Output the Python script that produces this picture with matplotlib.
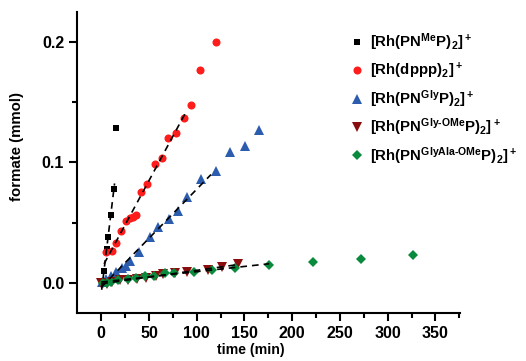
import numpy as np
import matplotlib
matplotlib.use("Agg")
import matplotlib.pyplot as plt

plt.rcParams['font.family'] = ['Liberation Sans', 'DejaVu Sans']
plt.rcParams['font.weight'] = 'bold'
plt.rcParams['mathtext.fontset'] = 'custom'
plt.rcParams['mathtext.rm'] = 'Liberation Sans:bold'
plt.rcParams['mathtext.bf'] = 'Liberation Sans:bold'
plt.rcParams['mathtext.default'] = 'bf'

# data (time in min, formate in mmol)
t_me = [2.5, 6, 7.5, 10, 13, 15.5]
y_me = [0.010, 0.028, 0.038, 0.056, 0.078, 0.129]

t_dppp = [5.5, 11, 16, 21, 25.5, 30, 33.5, 36.5, 42, 48, 56, 63.5, 70, 78.5, 86.5, 94.5, 103, 120.5]
y_dppp = [0.0255, 0.0266, 0.033, 0.0434, 0.051, 0.0537, 0.055, 0.056, 0.0758, 0.0822,
          0.0988, 0.1038, 0.1207, 0.1248, 0.1368, 0.1481, 0.1767, 0.2002]

t_gly = [0.5, 5, 10, 16, 22, 26, 30, 40, 51, 60, 71, 80, 90, 105, 120, 135, 151, 165]
y_gly = [0.001, 0.003, 0.006, 0.009, 0.012, 0.014, 0.018, 0.026, 0.038, 0.046,
         0.053, 0.060, 0.071, 0.086, 0.093, 0.109, 0.114, 0.127]

t_glyome = [0, 6, 11, 20, 28, 37, 47, 57, 65, 77, 90, 112, 126, 143]
y_glyome = [0.000, -0.001, 0.001, 0.002, 0.002, 0.003, 0.004, 0.006, 0.007, 0.008,
            0.009, 0.011, 0.013, 0.016]

t_glyala = [2, 6, 10, 18, 28, 36, 46, 55, 67, 76, 97, 116, 140, 176, 222, 272, 327]
y_glyala = [0.000, 0.000, 0.001, 0.002, 0.003, 0.004, 0.006, 0.006, 0.008, 0.008,
            0.009, 0.011, 0.012, 0.015, 0.017, 0.020, 0.023]

labels = [
    r'[Rh(PN$^{Me}$P)$_2$]$^+$',
    r'[Rh(dppp)$_2$]$^+$',
    r'[Rh(PN$^{Gly}$P)$_2$]$^+$',
    r'[Rh(PN$^{Gly‐OMe}$P)$_2$]$^+$',
    r'[Rh(PN$^{GlyAla‐OMe}$P)$_2$]$^+$',
]

# (times, values, marker, colour, marker size, points used in the linear fit, fit range)
series = [
    (t_me, y_me, 's', 'black', 4.8, 5, (0.5, 14)),
    (t_dppp, y_dppp, 'o', '#ff1c1c', 5.8, 15, (3, 88)),
    (t_gly, y_gly, '^', '#2b5cad', 7.2, 15, (0, 115)),
    (t_glyome, y_glyome, 'v', '#8a0d0d', 7.2, 14, (0, 145)),
    (t_glyala, y_glyala, 'D', '#0a8a3c', 5.2, 14, (0, 176)),
]

fig = plt.figure(figsize=(5.26, 3.61), dpi=100)
ax = fig.add_axes([0.147, 0.133, 0.728, 0.834])

handles = []
for (t, y, m, c, ms, nfit, (x0, x1)), lab in zip(series, labels):
    h, = ax.plot(t, y, linestyle='none', marker=m, color=c, markersize=ms,
                 markeredgewidth=0, label=lab, zorder=3)
    handles.append(h)
    k, b = np.polyfit(t[:nfit], y[:nfit], 1)
    xs = np.array([x0, x1])
    ax.plot(xs, k * xs + b, linestyle=(0, (4, 3)), color='black', lw=1.2, zorder=4)

ax.set_xlim(-25, 376)
ax.set_ylim(-0.025, 0.225)
ax.set_xticks(np.arange(0, 351, 50))
ax.set_xticks(np.arange(25, 376, 50), minor=True)
ax.set_yticks([0.0, 0.1, 0.2])
ax.set_yticks([0.05, 0.15], minor=True)
ax.set_yticklabels(['0.0', '0.1', '0.2'])
for s in ['top', 'right']:
    ax.spines[s].set_visible(False)
for s in ['left', 'bottom']:
    ax.spines[s].set_linewidth(1.5)
ax.tick_params(which='major', length=6, width=1.5, labelsize=11.5)
ax.tick_params(which='minor', length=3.5, width=1.5)
for lab in ax.get_xticklabels() + ax.get_yticklabels():
    lab.set_fontweight('bold')

ax.set_xlabel('time (min)', fontsize=10.2, fontweight='bold')
ax.set_ylabel('formate (mmol)', fontsize=10.8, fontweight='bold')
ax.xaxis.set_label_coords(0.453, -0.1)
ax.yaxis.set_label_coords(-0.14, 0.553)

fig.legend(handles=handles, loc='upper left', bbox_to_anchor=(0.65, 0.93),
           frameon=False, fontsize=10.8, handletextpad=0.3, labelspacing=0.5,
           handlelength=1.2, borderaxespad=0)

fig.savefig('out.png', dpi=100)
